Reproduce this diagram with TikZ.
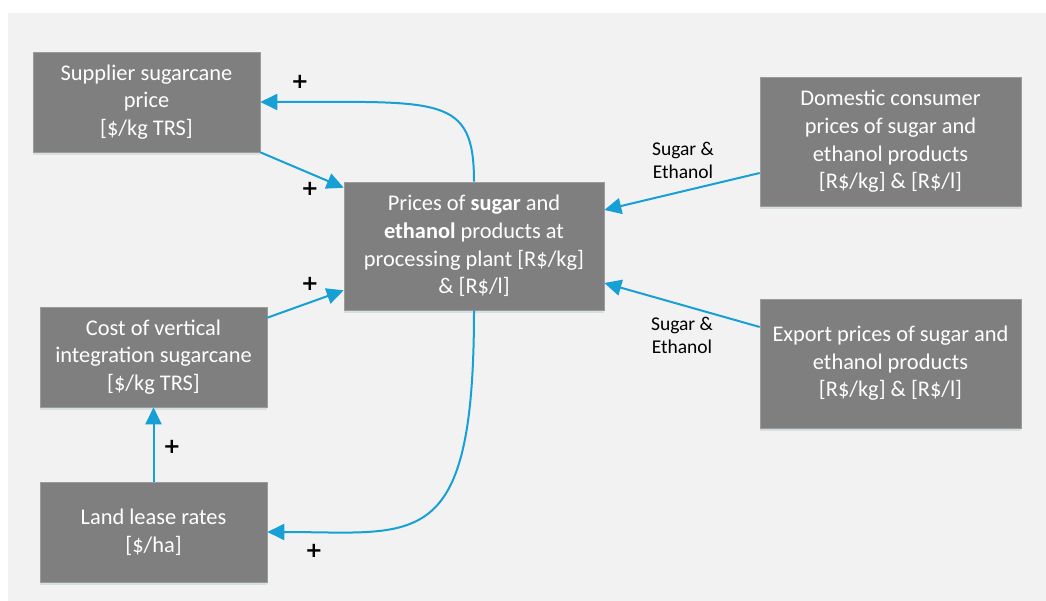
\documentclass[tikz,border=0pt]{standalone}
\usepackage{fontspec}
\setmainfont{Carlito}
\newfontfamily\signfont{DejaVu Sans}
\usetikzlibrary{arrows.meta,shadows}

\definecolor{panel}{RGB}{242,242,242}
\definecolor{boxfill}{RGB}{127,127,127}
\definecolor{boxedge}{RGB}{155,155,155}
\definecolor{link}{RGB}{22,160,214}

\tikzset{
  factor/.style={rectangle, fill=boxfill, draw=boxedge, line width=0.6pt,
    inner sep=0pt, align=center, text=white,
    font=\fontsize{22.4}{27.6}\selectfont,
    drop shadow={shadow xshift=0pt, shadow yshift=-3pt, fill=link!35!gray, opacity=0.18}},
  narrowbox/.style={factor, minimum width=227pt, minimum height=100pt},
  widebox/.style={factor, minimum width=261pt, minimum height=129pt},
  link/.style={draw=link, line width=2pt,
    -{Triangle[length=17pt, width=16pt]}},
  sign/.style={font=\signfont\fontsize{21}{21}\selectfont\bfseries, inner sep=0pt},
  flowlabel/.style={align=center, inner sep=0pt,
    font=\fontsize{19.5}{23}\selectfont}
}

\begin{document}
\begin{tikzpicture}[x=1pt, y=-1pt]
  % page and panel
  \useasboundingbox (0,0) rectangle (1046,601);
  \fill[white] (0,0) rectangle (1046,601);
  \fill[panel] (8,13) rectangle (1046,601);

  % factors
  \node[narrowbox] (sup)  at (146.5,102) {Supplier sugarcane\\price\\{}[\$/kg TRS]};
  \node[narrowbox] (cost) at (153.5,357) {Cost of vertical\\integration sugarcane\\{}[\$/kg TRS]};
  \node[narrowbox] (land) at (153.5,532) {Land lease rates\\{}[\$/ha]};
  \node[factor, minimum width=260pt, minimum height=128pt] (cen) at (474,246)
    {Prices of \textbf{sugar} and\\\textbf{ethanol} products at\\processing plant [R\$/kg]\\\& [R\$/l]};
  \node[widebox] (dom) at (890.5,141.5) {Domestic consumer\\prices of sugar and\\ethanol products\\{}[R\$/kg] \& [R\$/l]};
  \node[widebox] (exp) at (890.5,363.5) {Export prices of sugar and\\ethanol products\\{}[R\$/kg] \& [R\$/l]};

  % influences
  \draw[link] (cen.north) .. controls +(0,-87) and +(180,0) .. (sup.east);
  \draw[link] (sup.south east) -- ([yshift=-6pt]cen.north west);
  \draw[link] ([yshift=-11pt]cost.north east) -- ([yshift=20pt]cen.south west);
  \draw[link] (land.north) -- (cost.south);
  \draw[link] (cen.south) .. controls +(0,245) and +(150,0) .. (land.east);
  \draw[link] ([yshift=-31.5pt]dom.west) -- ([yshift=36pt]cen.east);
  \draw[link] ([yshift=36.5pt]exp.west) -- ([yshift=-37pt]cen.east);

  % polarity signs
  \node[sign] (p1) at (300,82)  {+};
  \node[sign] (p2) at (310,189) {+};
  \node[sign] (p3) at (310,284) {+};
  \node[sign] (p4) at (172,447) {+};
  \node[sign] (p5) at (314,551) {+};

  % flow labels
  \node[flowlabel] (l1) at (683,160) {Sugar \&\\Ethanol};
  \node[flowlabel] (l2) at (682,335) {Sugar \&\\Ethanol};
\end{tikzpicture}
\end{document}
